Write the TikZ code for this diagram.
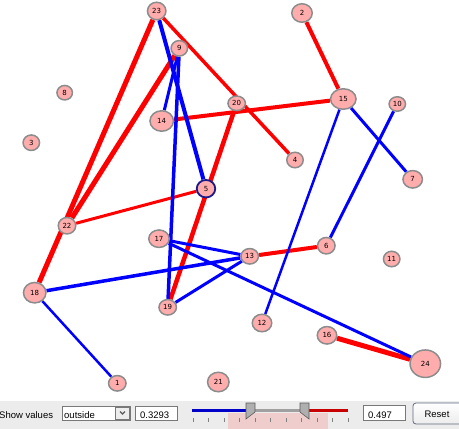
\documentclass[tikz,border=0pt]{standalone}
\usepackage{fontspec}
\setmainfont{Liberation Sans}
\newfontfamily\numfont{DejaVu Sans}
\usetikzlibrary{backgrounds,shapes.geometric}
\definecolor{nfill}{RGB}{255,172,172}
\definecolor{nborder}{RGB}{140,140,140}
\definecolor{fivebd}{RGB}{25,25,140}
\definecolor{ered}{RGB}{255,0,0}
\definecolor{eblue}{RGB}{0,0,255}
\definecolor{barbg}{RGB}{236,236,236}
\definecolor{fieldbd}{RGB}{120,120,120}
\definecolor{sblue}{RGB}{0,0,200}
\definecolor{sred}{RGB}{200,0,0}
\definecolor{sgray}{RGB}{160,160,160}
\definecolor{spink}{RGB}{240,205,205}
\definecolor{thumbfill}{RGB}{175,175,175}
\definecolor{thumbbd}{RGB}{90,90,90}
\definecolor{btnbd}{RGB}{95,105,125}
\begin{document}
\begin{tikzpicture}[x=1pt,y=-1pt,
  vtx/.style={ellipse, fill=nfill, draw=nborder, line width=1.5pt, inner sep=0pt,
    font=\numfont\fontsize{7}{7}\selectfont},
  sz/.style 2 args={minimum width=#1pt, minimum height=#2pt},
  re/.style={draw=ered, line width=#1pt},
  be/.style={draw=eblue, line width=#1pt},
  ui/.style={font=\fontsize{9.5}{10}\selectfont, inner sep=0pt},
  field/.style={draw=fieldbd, fill=white, line width=0.8pt, inner sep=0pt, anchor=north west},
  thumb/.style={fill=thumbfill, draw=thumbbd, line width=0.6pt}]
\useasboundingbox (0,0) rectangle (459,429);
% vertices
\node[vtx, sz={18.5}{17.5}] (n23) at (156.7,11) {23};
\node[vtx, sz={20.5}{18.5}] (n2) at (302,13) {2};
\node[vtx, sz={16.5}{15.5}] (n9) at (179.3,48.3) {9};
\node[vtx, sz={15.5}{14.5}] (n8) at (64.7,92.7) {8};
\node[vtx, sz={17.5}{14.5}] (n20) at (236.7,103.3) {20};
\node[vtx, sz={25.5}{20.5}] (n15) at (343.3,99) {15};
\node[vtx, sz={16.5}{14.5}] (n10) at (397.3,104) {10};
\node[vtx, sz={23.5}{20.5}] (n14) at (161.7,121) {14};
\node[vtx, sz={16.5}{15.5}] (n3) at (31.3,142.7) {3};
\node[vtx, sz={16.5}{15.5}] (n4) at (295,160) {4};
\node[vtx, sz={19.5}{17.5}] (n7) at (412.7,179.3) {7};
\node[vtx, sz={18.5}{17.5}, draw=fivebd, line width=1.8pt] (n5) at (206,188.7) {5};
\node[vtx, sz={17.5}{16.5}] (n22) at (67,225.7) {22};
\node[vtx, sz={20.5}{17.5}] (n17) at (159,238.7) {17};
\node[vtx, sz={17.5}{16.5}] (n6) at (326.3,245.7) {6};
\node[vtx, sz={17.5}{15.5}] (n13) at (249.7,256.3) {13};
\node[vtx, sz={16.5}{15.5}] (n11) at (391.7,259) {11};
\node[vtx, sz={22.5}{20.5}] (n18) at (34.7,292.7) {18};
\node[vtx, sz={17.5}{15.5}] (n19) at (167.7,307.3) {19};
\node[vtx, sz={19.5}{17.5}] (n12) at (262,323) {12};
\node[vtx, sz={19.5}{17.5}] (n16) at (327,335.3) {16};
\node[vtx, sz={30.5}{27.5}] (n24) at (425.3,363.7) {24};
\node[vtx, sz={17.5}{15.5}] (n1) at (117.3,383.3) {1};
\node[vtx, sz={21.5}{19.5}] (n21) at (218.3,382) {21};
% edges
\begin{scope}[on background layer]
\draw[re=5] (n23) -- (n18);
\draw[re=5] (n9) -- (n22);
\draw[re=3.5] (n23) -- (n4);
\draw[re=3] (n22) -- (n5);
\draw[re=4] (n14) -- (n15);
\draw[re=4.5] (n20) -- (n19);
\draw[re=4] (n2) -- (n15);
\draw[re=4] (n13) -- (n6);
\draw[re=5] (n16) -- (n24);
\draw[be=4] (n23) -- (n5);
\draw[be=3] (n9) -- (n14);
\draw[be=3.5] (n9) -- (n19);
\draw[be=2.5] (n15) -- (n12);
\draw[be=3] (n15) -- (n7);
\draw[be=3] (n10) -- (n6);
\draw[be=3] (n17) -- (n13);
\draw[be=3] (n17) -- (n24);
\draw[be=3.5] (n18) -- (n13);
\draw[be=3] (n19) -- (n13);
\draw[be=2.5] (n18) -- (n1);
\end{scope}
% control bar
\fill[barbg] (0,401) rectangle (459,429);
\node[ui, anchor=base west] (lbl) at (-1,418) {Show values};
\node[field, minimum width=68pt, minimum height=14pt] (combo) at (62,406) {};
\node[ui, anchor=base west] (combotxt) at (64,418) {outside};
\node[draw=fieldbd, fill=barbg, line width=0.6pt, minimum width=14pt, minimum height=12pt, inner sep=0pt] (drop) at (122.5,413) {};
\draw[line width=1.2pt, draw=thumbbd] (120,411.5) -- (122.5,414) -- (125,411.5);
\node[field, minimum width=42pt, minimum height=14pt] (f1) at (135,406) {};
\node[ui, anchor=base west] (f1txt) at (140,418) {0.3293};
\fill[spink] (228,413) rectangle (328,429);
\draw[sblue, line width=3pt] (192,410) -- (250,410);
\draw[sgray, line width=3pt] (250,410) -- (305,410);
\draw[sred, line width=3pt] (305,410) -- (348,410);
\foreach \i in {0,...,10} {\draw[gray, line width=0.7pt] ({193+15.5*\i},418) -- ({193+15.5*\i},422);}
\draw[thumb] (246,403) -- (255,403) -- (255,412) -- (246,419) -- cycle;
\draw[thumb] (300,403) -- (309,403) -- (309,419) -- (300,412) -- cycle;
\node[field, minimum width=42pt, minimum height=15pt] (f2) at (363,405) {};
\node[ui, anchor=base west] (f2txt) at (368,418) {0.497};
\draw[btnbd, line width=0.8pt, top color=white, bottom color=barbg, rounded corners=3pt] (413,403) rectangle (462,424);
\node[ui] (reset) at (437,414) {Reset};
\end{tikzpicture}
\end{document}
